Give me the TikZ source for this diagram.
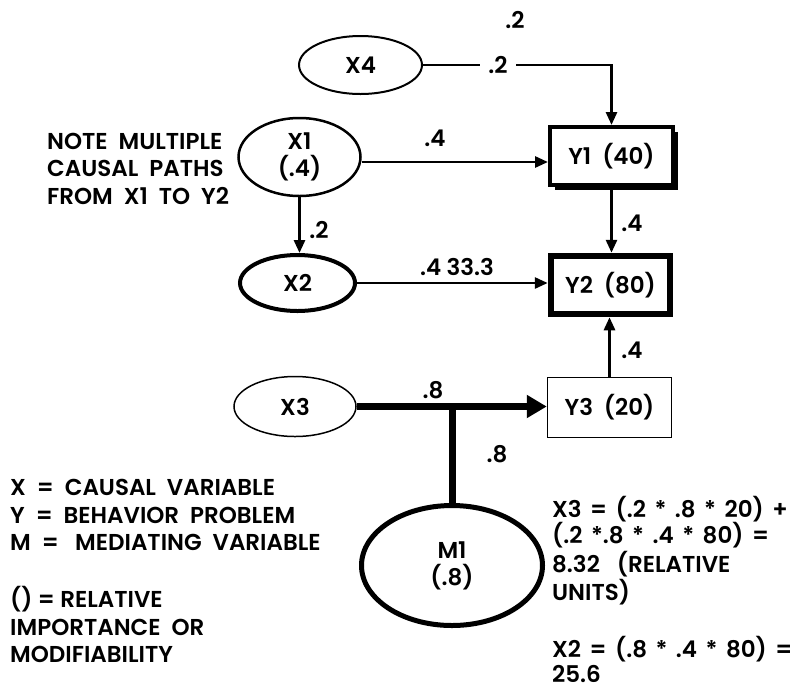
\documentclass[tikz,border=0pt]{standalone}
\usepackage{fontspec}
\IfFontExistsTF{Poppins SemiBold}{\newfontfamily\lblfam{Poppins SemiBold}\def\lblwt{}}{\newfontfamily\lblfam{Poppins}\def\lblwt{\bfseries}}
\usetikzlibrary{shapes.geometric,arrows.meta,shadows}
\newcommand\lbl{\fontsize{23}{27}\selectfont\lblfam\lblwt}
\newcommand\fsp{\hspace{8.5pt}}
\tikzset{
  oval/.style={ellipse, draw, inner sep=0pt, font=\lbl, align=center},
  box/.style={rectangle, draw, inner sep=0pt, font=\lbl, align=center, fill=white},
  conn/.style={line width=2.8pt, -{Triangle[length=13pt,width=11pt]}},
  num/.style={font=\lbl, inner sep=0pt},
  txt/.style={font=\lbl, inner sep=0pt, anchor=base west},
}
\begin{document}
\begin{tikzpicture}[x=1pt,y=-1pt]
\useasboundingbox (0,0) rectangle (800,689);
% nodes
\node[oval, line width=2pt, minimum width=123pt, minimum height=58pt] (x4) at (360.5,65) {X4};
\node[oval, line width=2.5pt, minimum width=122pt, minimum height=78pt] (x1) at (299.5,157) {X1\\(.4)};
\node[oval, line width=4pt, minimum width=115pt, minimum height=56pt] (x2) at (297.5,283) {X2};
\node[oval, line width=1.5pt, minimum width=122pt, minimum height=60pt] (x3) at (295,406.5) {X3};
\node[oval, line width=5pt, minimum width=181pt, minimum height=120pt] (m1) at (452,565.5) {M1\\(.8)};
\node[box, line width=4pt, minimum width=123pt, minimum height=58pt,
      drop shadow={shadow xshift=5pt, shadow yshift=-5pt, fill=black, opacity=1}] (y1) at (611.5,156) {Y1~~(40)};
\node[box, line width=6.5pt, minimum width=119pt, minimum height=58pt] (y2) at (610.5,285) {Y2~~(80)};
\node[box, line width=1.5pt, minimum width=124pt, minimum height=60pt] (y3) at (609.5,407.5) {Y3~~(20)};
% connectors
\draw[conn] (x4.east) -- (x4.east -| y1.north) -- (y1.north);
\draw[conn] ([yshift=-5pt]x1.east) -- ([yshift=-5pt]x1.east -| y1.west);
\draw[conn] (x1.south) -- (x1.south |- x2.north);
\draw[conn] (x2.east) -- (x2.east -| y2.west);
\draw[conn] (y1.south) -- (y1.south |- y2.north);
\draw[conn] (y3.north) -- (y3.north |- y2.south);
\draw[line width=7pt, -{Triangle[length=20pt,width=22pt]}] (x3.east) -- (x3.east -| y3.west);
\draw[line width=7pt] (m1.north |- x3.east) -- (m1.north);
% labels
\node[num] (ltop) at (515,20) {.2};
\node[num, fill=white, inner xsep=8pt, inner ysep=3pt] (l4) at (498,65) {.2};
\node[num] (l1) at (435,138) {.4};
\node[num] (l12) at (319,230) {.2};
\node[num] (l2) at (457,267) {.4 33.3};
\node[num] (ly12) at (632,223) {.4};
\node[num] (ly32) at (632,350) {.4};
\node[num] (l3) at (433,390) {.8};
\node[num] (lm) at (497,454) {.8};
% note
\node[txt] (n1) at (47,149) {NOTE~~MULTIPLE};
\node[txt] (n2) at (47,176) {CAUSAL~~PATHS};
\node[txt] (n3) at (47,204) {FROM~~X1~~TO~~Y2};
% legend
\node[txt] (g1) at (10,495) {X~~=~~CAUSAL~~VARIABLE};
\node[txt] (g2) at (10,523) {Y~~=~~BEHAVIOR~~PROBLEM};
\node[txt] (g3) at (10,550) {M~~=~~~MEDIATING~~VARIABLE};
\node[txt] (g4) at (10,607) {()~=~RELATIVE};
\node[txt] (g5) at (10,635) {IMPORTANCE~~OR};
\node[txt] (g6) at (10,662) {MODIFIABILITY};
% formulas
\node[txt] (f1) at (552,517) {X3\fsp=\fsp(.2\fsp*\fsp.8\fsp*\fsp20)\fsp+};
\node[txt] (f2) at (552,543) {(.2\fsp*.8\fsp*\fsp.4\fsp*\fsp80)\fsp=};
\node[txt] (f3) at (552,572) {8.32\fsp\fsp(RELATIVE};
\node[txt] (f4) at (552,600) {UNITS)};
\node[txt] (f5) at (552,657) {X2\fsp=\fsp(.8\fsp*\fsp.4\fsp*\fsp80)\fsp=};
\node[txt] (f6) at (552,682) {25.6};
\end{tikzpicture}
\end{document}
